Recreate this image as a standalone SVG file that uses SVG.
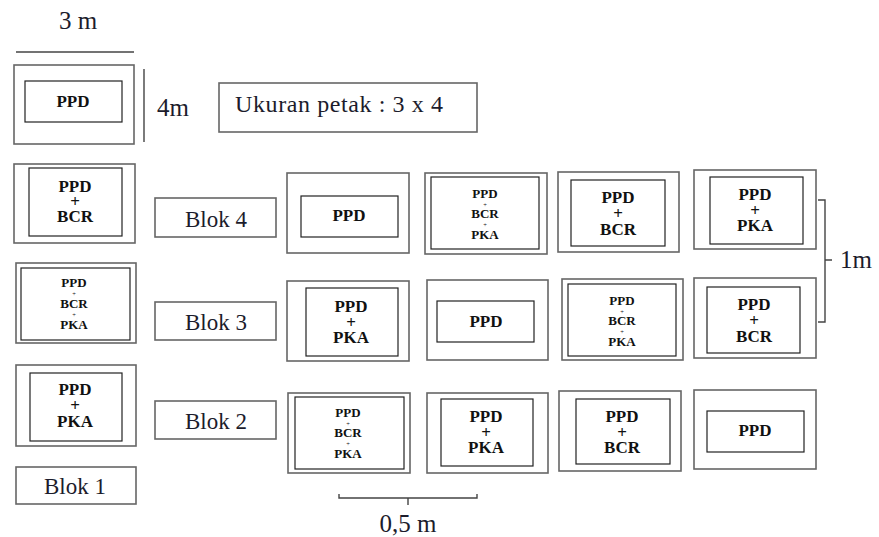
<svg xmlns="http://www.w3.org/2000/svg" width="879" height="537" viewBox="0 0 879 537">
  <style>
    .outer { fill: #fff; stroke: #666; stroke-width: 1.6; }
    .inner { fill: none; stroke: #222; stroke-width: 1.2; }
    .box { fill: #fff; stroke: #666; stroke-width: 1.6; }
    .dim { fill: none; stroke: #444; stroke-width: 1.4; }
    text { font-family: "Liberation Serif", "DejaVu Serif", "Times New Roman", serif; }
    .lbl { font-size: 23px; fill: #1c1c2c; }
    .dl { font-size: 25px; fill: #1c1c2c; }
    .t2 { font-weight: bold; font-size: 17px; fill: #111; text-anchor: middle; }
    .t3 { font-weight: bold; font-size: 13px; fill: #111; text-anchor: middle; }
    .tp { font-weight: normal; font-size: 6.5px; }
  </style>
  <rect width="879" height="537" fill="#fff"/>

  <!-- dimension marks -->
  <g id="dimensions">
    <text class="dl" x="78" y="29" text-anchor="middle">3 m</text>
    <line class="dim" x1="16" y1="52" x2="134" y2="52"/>
    <line class="dim" x1="144" y1="69" x2="144" y2="142"/>
    <text class="dl" x="157" y="116">4m</text>
    <path class="dim" d="M818,200 H825 V322 H818 M825,260 H832"/>
    <text class="dl" x="840" y="268">1m</text>
    <path class="dim" d="M339,494 V498 H477 V494 M408,498 V505"/>
    <text class="dl" x="408" y="532" text-anchor="middle">0,5 m</text>
  </g>

  <g id="legend">
    <rect class="box" x="219" y="83" width="258" height="49"/>
    <text class="lbl" x="235" y="112" style="font-size:24px" textLength="208">Ukuran petak : 3 x 4</text>
  </g>

  <!-- sample plot -->
  <g id="plot-sample">
    <rect class="outer" x="14" y="65" width="120" height="79"/>
    <rect class="inner" x="25" y="81" width="97" height="41"/>
    <text class="t2" x="73" y="107">PPD</text>
  </g>

  <!-- Blok 1 (left column) -->
  <g id="b1-p1">
    <rect class="outer" x="14" y="164" width="121" height="79"/>
    <rect class="inner" x="29" y="168" width="93" height="68"/>
    <text class="t2"><tspan x="75" y="192">PPD</tspan><tspan x="75" y="207">+</tspan><tspan x="75" y="222">BCR</tspan></text>
  </g>
  <g id="b1-p2">
    <rect class="outer" x="16" y="263" width="120" height="80"/>
    <rect class="inner" x="21" y="268" width="109" height="72"/>
    <text class="t3"><tspan x="74" y="287">PPD</tspan><tspan class="tp" x="74" y="296">+</tspan><tspan x="74" y="308">BCR</tspan><tspan class="tp" x="74" y="317">+</tspan><tspan x="74" y="329">PKA</tspan></text>
  </g>
  <g id="b1-p3">
    <rect class="outer" x="16" y="365" width="120" height="81"/>
    <rect class="inner" x="30" y="373" width="92" height="68"/>
    <text class="t2"><tspan x="75" y="395">PPD</tspan><tspan x="75" y="411">+</tspan><tspan x="75" y="427">PKA</tspan></text>
  </g>
  <g id="blok1">
    <rect class="box" x="16" y="467" width="120" height="37"/>
    <text class="lbl" x="75" y="494" text-anchor="middle">Blok 1</text>
  </g>

  <!-- block labels -->
  <g id="blok4">
    <rect class="box" x="155" y="198" width="121" height="39"/>
    <text class="lbl" x="216" y="227" text-anchor="middle">Blok 4</text>
  </g>
  <g id="blok3">
    <rect class="box" x="155" y="302" width="121" height="38"/>
    <text class="lbl" x="216" y="330" text-anchor="middle">Blok 3</text>
  </g>
  <g id="blok2">
    <rect class="box" x="155" y="401" width="121" height="38"/>
    <text class="lbl" x="216" y="429" text-anchor="middle">Blok 2</text>
  </g>

  <!-- Blok 4 row -->
  <g id="b4-p1">
    <rect class="outer" x="287" y="173" width="122" height="80"/>
    <rect class="inner" x="301" y="196" width="97" height="41"/>
    <text class="t2" x="349" y="221">PPD</text>
  </g>
  <g id="b4-p2">
    <rect class="outer" x="425" y="173" width="122" height="81"/>
    <rect class="inner" x="431" y="177" width="108" height="72"/>
    <text class="t3"><tspan x="485" y="198">PPD</tspan><tspan class="tp" x="485" y="207">+</tspan><tspan x="485" y="218">BCR</tspan><tspan class="tp" x="485" y="227">+</tspan><tspan x="485" y="239">PKA</tspan></text>
  </g>
  <g id="b4-p3">
    <rect class="outer" x="558" y="172" width="121" height="80"/>
    <rect class="inner" x="571" y="180" width="94" height="66"/>
    <text class="t2"><tspan x="618" y="203">PPD</tspan><tspan x="618" y="219">+</tspan><tspan x="618" y="235">BCR</tspan></text>
  </g>
  <g id="b4-p4">
    <rect class="outer" x="694" y="170" width="122" height="79"/>
    <rect class="inner" x="710" y="177" width="93" height="67"/>
    <text class="t2"><tspan x="755" y="200">PPD</tspan><tspan x="755" y="216">+</tspan><tspan x="755" y="231">PKA</tspan></text>
  </g>

  <!-- Blok 3 row -->
  <g id="b3-p1">
    <rect class="outer" x="287" y="281" width="122" height="80"/>
    <rect class="inner" x="306" y="288" width="92" height="68"/>
    <text class="t2"><tspan x="351" y="312">PPD</tspan><tspan x="351" y="328">+</tspan><tspan x="351" y="343">PKA</tspan></text>
  </g>
  <g id="b3-p2">
    <rect class="outer" x="427" y="280" width="121" height="80"/>
    <rect class="inner" x="437" y="301" width="97" height="41"/>
    <text class="t2" x="486" y="327">PPD</text>
  </g>
  <g id="b3-p3">
    <rect class="outer" x="562" y="279" width="121" height="81"/>
    <rect class="inner" x="568" y="284" width="108" height="72"/>
    <text class="t3"><tspan x="622" y="305">PPD</tspan><tspan class="tp" x="622" y="314">+</tspan><tspan x="622" y="325">BCR</tspan><tspan class="tp" x="622" y="334">+</tspan><tspan x="622" y="346">PKA</tspan></text>
  </g>
  <g id="b3-p4">
    <rect class="outer" x="694" y="278" width="122" height="80"/>
    <rect class="inner" x="707" y="287" width="93" height="66"/>
    <text class="t2"><tspan x="754" y="310">PPD</tspan><tspan x="754" y="326">+</tspan><tspan x="754" y="342">BCR</tspan></text>
  </g>

  <!-- Blok 2 row -->
  <g id="b2-p1">
    <rect class="outer" x="288" y="393" width="122" height="80"/>
    <rect class="inner" x="295" y="397" width="109" height="72"/>
    <text class="t3"><tspan x="348" y="417">PPD</tspan><tspan class="tp" x="348" y="426">+</tspan><tspan x="348" y="437">BCR</tspan><tspan class="tp" x="348" y="446">+</tspan><tspan x="348" y="458">PKA</tspan></text>
  </g>
  <g id="b2-p2">
    <rect class="outer" x="427" y="393" width="121" height="80"/>
    <rect class="inner" x="441" y="399" width="92" height="67"/>
    <text class="t2"><tspan x="486" y="422">PPD</tspan><tspan x="486" y="438">+</tspan><tspan x="486" y="453">PKA</tspan></text>
  </g>
  <g id="b2-p3">
    <rect class="outer" x="559" y="391" width="122" height="80"/>
    <rect class="inner" x="576" y="399" width="94" height="65"/>
    <text class="t2"><tspan x="622" y="422">PPD</tspan><tspan x="622" y="438">+</tspan><tspan x="622" y="453">BCR</tspan></text>
  </g>
  <g id="b2-p4">
    <rect class="outer" x="694" y="390" width="122" height="79"/>
    <rect class="inner" x="707" y="411" width="97" height="41"/>
    <text class="t2" x="755" y="436">PPD</text>
  </g>

  <!-- plots stand alone; nothing links them -->
  <g id="connectors"/>
</svg>
